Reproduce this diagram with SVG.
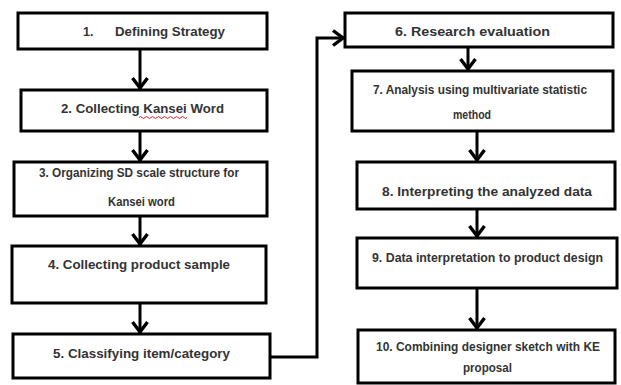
<svg xmlns="http://www.w3.org/2000/svg" width="621" height="385" viewBox="0 0 621 385">
<defs>
<marker id="ah" markerUnits="userSpaceOnUse" markerWidth="18" markerHeight="18" refX="14" refY="9" orient="auto">
<path d="M3,1.5 L13,9 L3,16.5" fill="none" stroke="#000" stroke-width="3.4"/>
</marker>
<style>
.box{fill:#fff;stroke:#000;stroke-width:3}
.t{font-family:"Liberation Sans",Arial,sans-serif;font-size:12.5px;font-weight:bold;fill:#333}
.c{fill:none;stroke:#000;stroke-width:3;marker-end:url(#ah)}
</style>
</defs>
<rect width="621" height="385" fill="#fff"/>
<g id="n1"><rect class="box" x="18" y="13" width="249" height="36"/><text class="t" x="83" y="36">1.</text><text class="t" x="115" y="36" textLength="110" lengthAdjust="spacingAndGlyphs">Defining Strategy</text></g>
<g id="n2"><rect class="box" x="21" y="90" width="246" height="41"/><text class="t" x="61" y="113" textLength="163" lengthAdjust="spacingAndGlyphs">2. Collecting Kansei Word</text><path d="M139,117.5 q1.5,-2 3,0 t3,0 t3,0 t3,0 t3,0 t3,0 t3,0 t3,0 t3,0 t3,0 t3,0 t3,0 t3,0 t3,0 t3,0 t3,0" fill="none" stroke="#d22" stroke-width="1"/></g>
<g id="n3"><rect class="box" x="14" y="162" width="253" height="54"/><text class="t" x="39" y="177" textLength="200" lengthAdjust="spacingAndGlyphs">3. Organizing SD scale structure for</text><text class="t" x="108" y="206" textLength="67" lengthAdjust="spacingAndGlyphs">Kansei word</text></g>
<g id="n4"><rect class="box" x="12" y="246" width="254" height="57"/><text class="t" x="48" y="269" textLength="182" lengthAdjust="spacingAndGlyphs">4. Collecting product sample</text></g>
<g id="n5"><rect class="box" x="13" y="334" width="257" height="44"/><text class="t" x="53" y="358" textLength="177" lengthAdjust="spacingAndGlyphs">5. Classifying item/category</text></g>
<g id="n6"><rect class="box" x="345" y="13" width="268" height="34"/><text class="t" x="395" y="36" textLength="155" lengthAdjust="spacingAndGlyphs">6. Research evaluation</text></g>
<g id="n7"><rect class="box" x="352" y="71" width="261" height="60"/><text class="t" x="373" y="94" textLength="214" lengthAdjust="spacingAndGlyphs">7. Analysis using multivariate statistic</text><text class="t" x="453" y="119" textLength="38" lengthAdjust="spacingAndGlyphs">method</text></g>
<g id="n8"><rect class="box" x="357" y="162" width="258" height="47"/><text class="t" x="382" y="196" textLength="210" lengthAdjust="spacingAndGlyphs">8. Interpreting the analyzed data</text></g>
<g id="n9"><rect class="box" x="357" y="238" width="260" height="50"/><text class="t" x="372" y="262" textLength="231" lengthAdjust="spacingAndGlyphs">9. Data interpretation to product design</text></g>
<g id="n10"><rect class="box" x="358" y="330" width="257" height="53"/><text class="t" x="376" y="351" textLength="224" lengthAdjust="spacingAndGlyphs">10. Combining designer sketch with KE</text><text class="t" x="463" y="372" textLength="49" lengthAdjust="spacingAndGlyphs">proposal</text></g>
<g id="connectors">
<path class="c" d="M140,49 V89"/>
<path class="c" d="M140,131 V161"/>
<path class="c" d="M140,216 V245"/>
<path class="c" d="M140,303 V333"/>
<path class="c" d="M270,357 H317 V38 H344"/>
<path class="c" d="M468,47 V70"/>
<path class="c" d="M477,131 V161"/>
<path class="c" d="M477,209 V237"/>
<path class="c" d="M477,288 V329"/>
</g>
</svg>
